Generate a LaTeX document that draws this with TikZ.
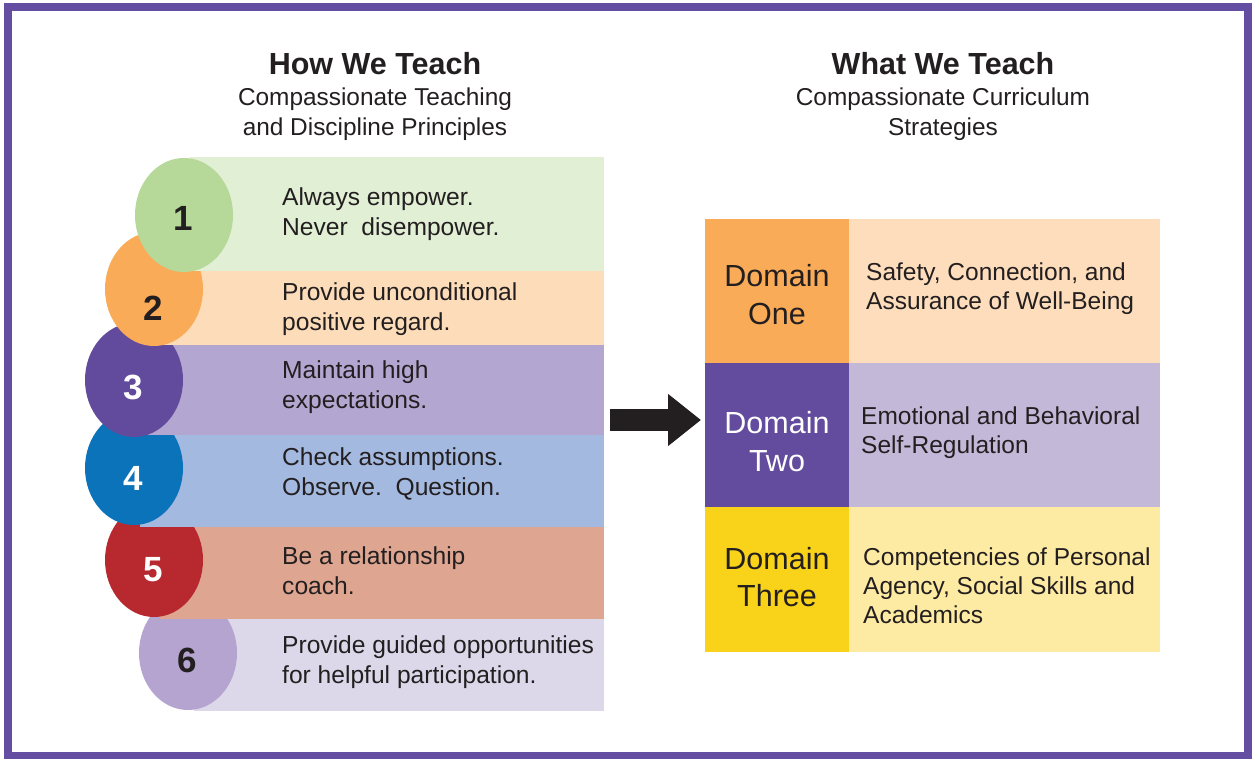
\documentclass[tikz,border=0pt]{standalone}
\usepackage{fontspec}
\setmainfont{Liberation Sans}
\usetikzlibrary{shapes.geometric,arrows.meta}

\definecolor{framepurple}{HTML}{644EA1}
\definecolor{inkdark}{HTML}{231F20}
\definecolor{bandA}{HTML}{E1EFD5} \definecolor{dotA}{HTML}{B6D898}
\definecolor{bandB}{HTML}{FDDDB9} \definecolor{dotB}{HTML}{F9AB58}
\definecolor{bandC}{HTML}{B3A6D0} \definecolor{dotC}{HTML}{624B9D}
\definecolor{bandD}{HTML}{A4B9E0} \definecolor{dotD}{HTML}{0B73B9}
\definecolor{bandE}{HTML}{DEA591} \definecolor{dotE}{HTML}{B8282F}
\definecolor{bandF}{HTML}{DCD8EA} \definecolor{dotF}{HTML}{B4A4CF}
\definecolor{domOne}{HTML}{F9AB58}   \definecolor{stratOne}{HTML}{FDDDBB}
\definecolor{domTwo}{HTML}{634C9D}   \definecolor{stratTwo}{HTML}{C3B8D8}
\definecolor{domThree}{HTML}{F9D21A} \definecolor{stratThree}{HTML}{FEEBA3}

\tikzset{
  numdot/.style={ellipse, inner sep=0pt, minimum width=98pt, minimum height=114pt},
  numlbl/.style={font=\fontsize{35}{35}\selectfont\bfseries, inner sep=0pt},
  headtxt/.style={font=\fontsize{30.5}{36}\selectfont\bfseries, text=inkdark, inner sep=0pt, anchor=base},
  subtxt/.style={font=\fontsize{24.4}{30}\selectfont, text=inkdark, align=center, inner sep=0pt},
  bandtxt/.style={font=\fontsize{24.6}{30}\selectfont, text=inkdark, align=left, anchor=west, inner sep=0pt},
  domtxt/.style={font=\fontsize{30.5}{37.5}\selectfont, text=inkdark, align=center, inner sep=0pt},
  strattxt/.style={font=\fontsize{24.5}{29}\selectfont, text=inkdark, align=left, anchor=west, inner sep=0pt},
  bigarrow/.style={line width=22pt, inkdark, -{Triangle[length=33pt, width=50pt]}}
}

\begin{document}
\begin{tikzpicture}[x=1pt, y=-1pt]
  \useasboundingbox (0,0) rectangle (1253,759);
  \draw[framepurple, line width=8pt] (8,7) rectangle (1248,756);

  % headings
  \node[headtxt] (howhead) at (375,75) {How We Teach};
  \node[subtxt] (howsub) at (375,114) {Compassionate Teaching\\and Discipline Principles};
  \node[headtxt] (whathead) at (943,75) {What We Teach};
  \node[subtxt] (whatsub) at (943,114) {Compassionate Curriculum\\Strategies};

  % principle bands, bottom one first so each ellipse sits over the next
  \foreach \n/\cx/\cy/\ya/\yb/\bc/\dc/\nc/\ly in {
      6/188/653/619/711/bandF/dotF/inkdark/660,
      5/154/560/527/619/bandE/dotE/white/569.5,
      4/134/468/435/527/bandD/dotD/white/478.5,
      3/134/380/345/435/bandC/dotC/white/387,
      2/154/289/271/345/bandB/dotB/inkdark/308.5,
      1/184/215/157/271/bandA/dotA/inkdark/218} {
    \fill[\bc] (\cx+6,\ya) rectangle (604,\yb);
    \node[numdot, fill=\dc] (dot\n) at (\cx,\cy) {};
    \node[numlbl, text=\nc] (num\n) at (\cx-1,\ly) {\n};
  }

  \node[bandtxt] (prin1) at (282,214) {Always empower.\\Never\ \ disempower.};
  \node[bandtxt] (prin2) at (282,309) {Provide unconditional\\positive regard.};
  \node[bandtxt] (prin3) at (282,387) {Maintain high\\expectations.};
  \node[bandtxt] (prin4) at (282,474) {Check assumptions.\\Observe.\ \ Question.};
  \node[bandtxt] (prin5) at (282,571) {Be a relationship\\coach.};
  \node[bandtxt] (prin6) at (282,662) {Provide guided opportunities\\for helpful participation.};

  % arrow between the two halves
  \coordinate (arrowtail) at (610,420);
  \coordinate (arrowtip) at (701,420);
  \draw[bigarrow] (arrowtail) -- (arrowtip);

  % domain table
  \foreach \ya/\yb/\dc/\sc in {219/363/domOne/stratOne, 363/507/domTwo/stratTwo, 507/652/domThree/stratThree} {
    \fill[\sc] (705,\ya) rectangle (1160,\yb);
    \fill[\dc] (705,\ya) rectangle (849,\yb);
  }
  \node[domtxt] (dom1) at (777,294.5) {Domain\\One};
  \node[domtxt, text=white] (dom2) at (777,441.5) {Domain\\Two};
  \node[domtxt] (dom3) at (777,577) {Domain\\Three};

  \node[strattxt] (strat1) at (866,289) {Safety, Connection, and\\Assurance of Well-Being};
  \node[strattxt] (strat2) at (861,433) {Emotional and Behavioral\\Self-Regulation};
  \node[strattxt] (strat3) at (863,586) {Competencies of Personal\\Agency, Social Skills and\\Academics};
\end{tikzpicture}
\end{document}
